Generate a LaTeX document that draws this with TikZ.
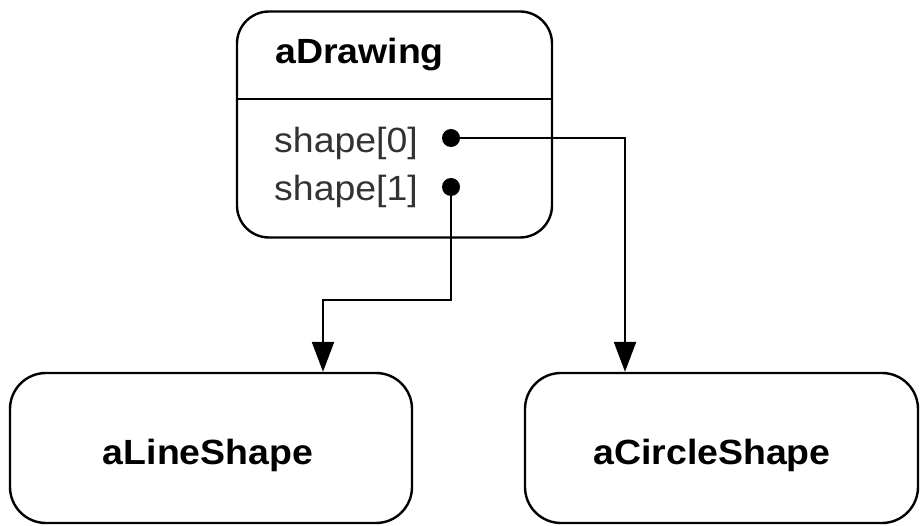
\documentclass[tikz,border=0pt]{standalone}
\usepackage{fontspec}
\setmainfont{Liberation Sans}[FakeStretch=1.07]
\usetikzlibrary{arrows.meta}
\begin{document}
\begin{tikzpicture}[x=1pt,y=-1pt,
  objbox/.style={draw, line width=2.4pt, rounded corners=32pt, inner sep=0pt},
  titletext/.style={font=\fontsize{35}{40}\selectfont\bfseries, inner sep=0pt},
  fieldtext/.style={font=\fontsize{35}{40}\selectfont, text=black!80, inner sep=0pt, anchor=west},
  refdot/.style={circle, fill=black, inner sep=0pt, minimum size=18pt},
  conn/.style={line width=2.4pt},
  arr/.style={conn, -{Triangle[width=22pt,length=30pt]}}]
\useasboundingbox (0,0) rectangle (921,526);
% aDrawing object
\node[objbox, minimum width=315pt, minimum height=226pt] (drawing) at (394.5,124.5) {};
\draw[conn] (drawing.west |- 0,99) -- (drawing.east |- 0,99);
\node[titletext, anchor=west] (title) at (275,55) {aDrawing};
\node[fieldtext] (f0) at (274,143) {shape[0]};
\node[fieldtext] (f1) at (274,191) {shape[1]};
\node[refdot] (d0) at (451,138) {};
\node[refdot] (d1) at (451,187) {};
% targets
\node[objbox, rounded corners=36pt, minimum width=402pt, minimum height=150pt] (line) at (211,448) {};
\node[titletext] (linelbl) at (208,455) {aLineShape};
\node[objbox, rounded corners=36pt, minimum width=393pt, minimum height=150pt] (circ) at (721.5,448) {};
\node[titletext] (circlbl) at (712,455) {aCircleShape};
% connectors
\coordinate (t0) at (625,0);
\coordinate (b1) at (323,300);
\draw[arr] (d0.center) -| (t0 |- circ.north);
\draw[arr] (d1.center) |- (b1) -- (b1 |- line.north);
\end{tikzpicture}
\end{document}
